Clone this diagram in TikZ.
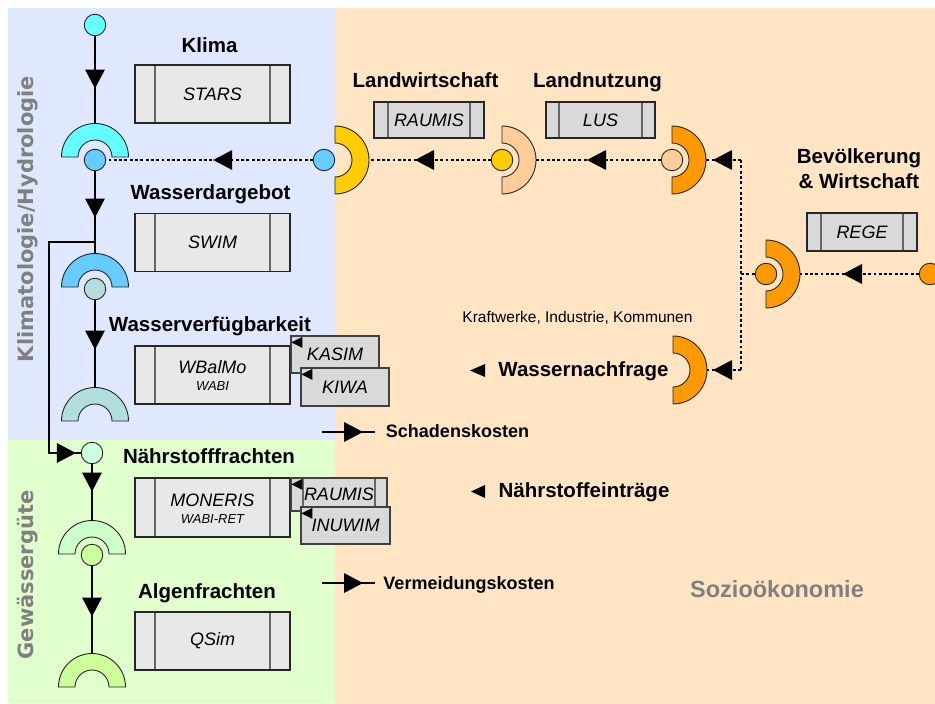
\documentclass[tikz,border=0pt]{standalone}
\usepackage{fontspec}
\setmainfont{Liberation Sans}
\newfontfamily\vfont{DejaVu Sans}
\usetikzlibrary{decorations.markings}

\definecolor{bgblue}{HTML}{DFE8FE}
\definecolor{bggreen}{HTML}{E0FFCC}
\definecolor{bgorange}{HTML}{FFE5C4}
\definecolor{cyanA}{HTML}{66FFFF}
\definecolor{blueA}{HTML}{66CCFF}
\definecolor{tealA}{HTML}{B3DEDE}
\definecolor{mintA}{HTML}{CCFFDD}
\definecolor{mintB}{HTML}{CCFFCC}
\definecolor{limeA}{HTML}{CCFF99}
\definecolor{goldA}{HTML}{FFCC00}
\definecolor{peachA}{HTML}{FFCC99}
\definecolor{orangeA}{HTML}{FF9900}
\definecolor{boxlight}{HTML}{E8E8E8}
\definecolor{boxmid}{HTML}{D9D9D9}
\definecolor{labelgray}{HTML}{808080}

\begin{document}
\begin{tikzpicture}[x=1pt, y=-1pt,
  ball/.style={circle, draw=black!85, line width=0.9pt, minimum size=21.5pt, inner sep=0pt, fill=#1},
  conn/.style={line width=2.8pt},
  dotline/.style={line width=2.9pt, dash pattern=on 2.9pt off 2.4pt},
  tipat/.style={postaction={decorate, decoration={markings,
      mark=at position #1 with {\fill[black] (0,0) -- (-19,10) -- (-19,-10) -- cycle;}}}},
  pics/cupdown/.style={code={
    \draw[line width=0.9pt, draw=black!85, fill=#1]
      (-33.5,0) arc[start angle=180, end angle=360, radius=33.5] -- (17,0)
      arc[start angle=360, end angle=180, radius=17] -- cycle;
    \coordinate (-top) at (0,-33.5);
  }},
  pics/cupright/.style={code={
    \draw[line width=0.9pt, draw=black!85, fill=#1]
      (0,-34) arc[start angle=270, end angle=450, radius=34] -- (0,17)
      arc[start angle=450, end angle=270, radius=17] -- cycle;
    \coordinate (-right) at (34,0);
  }},
  modbox/.style={draw=black!85, line width=1.2pt, fill=boxlight, inner sep=0pt,
    font=\fontsize{18}{20}\selectfont\itshape,
    path picture={
      \draw[line width=1.2pt, black!60]
        ([xshift=#1]path picture bounding box.north west) -- ([xshift=#1]path picture bounding box.south west);
      \draw[line width=1.2pt, black!60]
        ([xshift=-#1]path picture bounding box.north east) -- ([xshift=-#1]path picture bounding box.south east);
    }},
  smallbox/.style={draw=black!75, line width=1.2pt, fill=boxmid, inner sep=0pt,
    font=\fontsize{18}{20}\selectfont\itshape},
  head/.style={font=\fontsize{20.5}{24}\selectfont\bfseries, anchor=base, inner sep=0pt},
  costlabel/.style={font=\fontsize{18}{20}\selectfont\bfseries, anchor=base, inner sep=0pt},
  sidelabel/.style={font=\vfont\fontsize{21}{24}\selectfont\bfseries, text=labelgray,
    rotate=90, anchor=base, inner sep=0pt},
]
\useasboundingbox (0,0) rectangle (935,704);

% coloured areas
\fill[white] (0,0) rectangle (935,704);
\fill[bgblue] (8,8) rectangle (335,440);
\fill[bggreen] (8,440) rectangle (335,703);
\fill[bgorange] (335,8) rectangle (935,704);

% side titles
\node[sidelabel] (kh) at (33,219) {Klimatologie/Hydrologie};
\node[sidelabel] (gw) at (33,575) {Gewässergüte};
\node[font=\fontsize{23.5}{26}\selectfont\bfseries, text=labelgray, anchor=base, inner sep=0pt]
  (soz) at (777,597) {Sozioökonomie};

% headings
\node[head] (hKlima) at (209.5,52) {Klima};
\node[head] (hWd) at (210.5,199) {Wasserdargebot};
\node[head] (hWv) at (210,331) {Wasserverfügbarkeit};
\node[head] (hNf) at (209,463) {Nährstofffrachten};
\node[head] (hAf) at (207,598) {Algenfrachten};
\node[head] (hLw) at (425.5,87) {Landwirtschaft};
\node[head] (hLn) at (597.5,87) {Landnutzung};
\node[head] (hBev) at (859,163) {Bevölkerung};
\node[head] (hWi) at (859,188) {\& Wirtschaft};
\node[head] (hWn) at (583.5,376) {Wassernachfrage};
\node[head] (hNe) at (584,497) {Nährstoffeinträge};
\node[font=\fontsize{15.5}{18}\selectfont, anchor=base, inner sep=0pt]
  (kik) at (577.5,322) {Kraftwerke, Industrie, Kommunen};
\node[costlabel] (sk) at (457.5,437) {Schadenskosten};
\node[costlabel] (vk) at (469,589) {Vermeidungskosten};

% model boxes
\node[modbox=20pt, minimum width=155pt, minimum height=58pt] (stars) at (212.5,94) {STARS};
\node[modbox=20pt, minimum width=155pt, minimum height=58pt] (swim) at (212.5,242.5) {SWIM};
\node[modbox=20pt, minimum width=155pt, minimum height=58pt] (wbalmo) at (212.5,375) {};
\node[font=\fontsize{18}{20}\selectfont\itshape, anchor=base, inner sep=0pt] (wbalmoT) at (212.5,373) {WBalMo};
\node[font=\fontsize{13}{15}\selectfont\itshape, anchor=base, inner sep=0pt] (wabiT) at (212.5,390) {WABI};
\node[modbox=20pt, minimum width=155pt, minimum height=59pt] (moneris) at (212.5,507.5) {};
\node[font=\fontsize{18}{20}\selectfont\itshape, anchor=base, inner sep=0pt] (monerisT) at (212.5,506) {MONERIS};
\node[font=\fontsize{13}{15}\selectfont\itshape, anchor=base, inner sep=0pt] (wabiretT) at (212.5,523) {WABI-RET};
\node[modbox=20pt, minimum width=155pt, minimum height=58pt] (qsim) at (212.5,641) {QSim};

\node[modbox=14pt, fill=boxmid, minimum width=110pt, minimum height=36pt] (raumis) at (429,120) {RAUMIS};
\node[modbox=13pt, fill=boxmid, minimum width=109pt, minimum height=36pt] (lus) at (600.5,120) {LUS};
\node[modbox=14pt, fill=boxmid, minimum width=110pt, minimum height=38pt] (rege) at (862,232) {REGE};

% input models
\node[smallbox, minimum width=88pt, minimum height=37pt] (kasim) at (335,354.5) {KASIM};
\node[smallbox, minimum width=88pt, minimum height=38pt] (kiwa) at (345,387) {KIWA};
\node[modbox=12pt, fill=boxmid, draw=black!75, minimum width=96pt, minimum height=33pt] (raumisB) at (339,494.5) {RAUMIS};
\node[smallbox, minimum width=89pt, minimum height=37pt] (inuwim) at (345.5,525.5) {INUWIM};
\foreach \b in {kasim,kiwa,raumisB,inuwim}
  \fill ([shift={(1,7)}]\b.north west) -- ([shift={(12,1.5)}]\b.north west)
        -- ([shift={(12,12.5)}]\b.north west) -- cycle;

% sockets
\pic (s1) at (95,157) {cupdown=cyanA};
\pic (s2) at (95,287) {cupdown=blueA};
\pic (s3) at (95,421) {cupdown=tealA};
\pic (s4) at (92,554) {cupdown=mintB};
\pic (s5) at (92,687) {cupdown=limeA};
\pic (sy) at (335,160) {cupright=goldA};
\pic (sp) at (502,160) {cupright=peachA};
\pic (so) at (672,160) {cupright=orangeA};
\pic (sm) at (766,274) {cupright=orangeA};
\pic (sw) at (673,370) {cupright=orangeA};

% balls
\node[ball=cyanA] (b0) at (95,25) {};
\node[ball=blueA] (b1) at (95,160) {};
\node[ball=tealA] (b2) at (95,289) {};
\node[ball=mintA] (b3) at (92,453) {};
\node[ball=limeA] (b4) at (92,555) {};
\node[ball=blueA] (bx) at (324,160) {};
\node[ball=goldA] (by) at (502,160) {};
\node[ball=peachA] (bp) at (672,160) {};
\node[ball=orangeA] (bm) at (766,274) {};
\node[ball=orangeA] (br) at (930,274) {};

% natural-science chain
\draw[conn, tipat=-35pt] (b0) -- (s1-top);
\draw[conn, tipat=-36pt] (b1) -- (s2-top);
\draw[conn, tipat=-38pt] (b2) -- (s3-top);
\coordinate (fb) at (95,242);
\coordinate (fbc) at (49,453);
\draw[conn, tipat=-5pt] (fb) -| (fbc) -- (b3);
\draw[conn, tipat=-29pt] (b3) -- (s4-top);
\draw[conn, tipat=-37pt] (b4) -- (s5-top);

% socio-economic chain
\draw[dotline, tipat=-107pt] (bx) -- (b1);
\draw[dotline, tipat=-46pt] (by) -- (sy-right);
\draw[dotline, tipat=-51pt] (bp) -- (sp-right);
\coordinate (rt) at (741,160);
\coordinate (rm) at (741,274);
\coordinate (rb) at (741,370);
\draw[dotline, tipat=-7pt] (rt) -- (so-right);
\draw[dotline] (rt) -- (rb);
\draw[dotline, tipat=-6pt] (rb) -- (sw-right);
\draw[dotline] (rm) -- (bm);
\draw[dotline, tipat=-43pt] (br) -- (sm-right);

% cost outputs
\coordinate (skA) at (322,432);
\coordinate (skB) at (375,432);
\draw[conn, tipat=-12pt] (skA) -- (skB);
\coordinate (vkA) at (322,583);
\coordinate (vkB) at (375,583);
\draw[conn, tipat=-12pt] (vkA) -- (vkB);

% demand markers
\fill (470,370.5) -- (485,364) -- (485,377) -- cycle;
\fill (471,491.5) -- (485,485) -- (485,498) -- cycle;
\end{tikzpicture}
\end{document}
